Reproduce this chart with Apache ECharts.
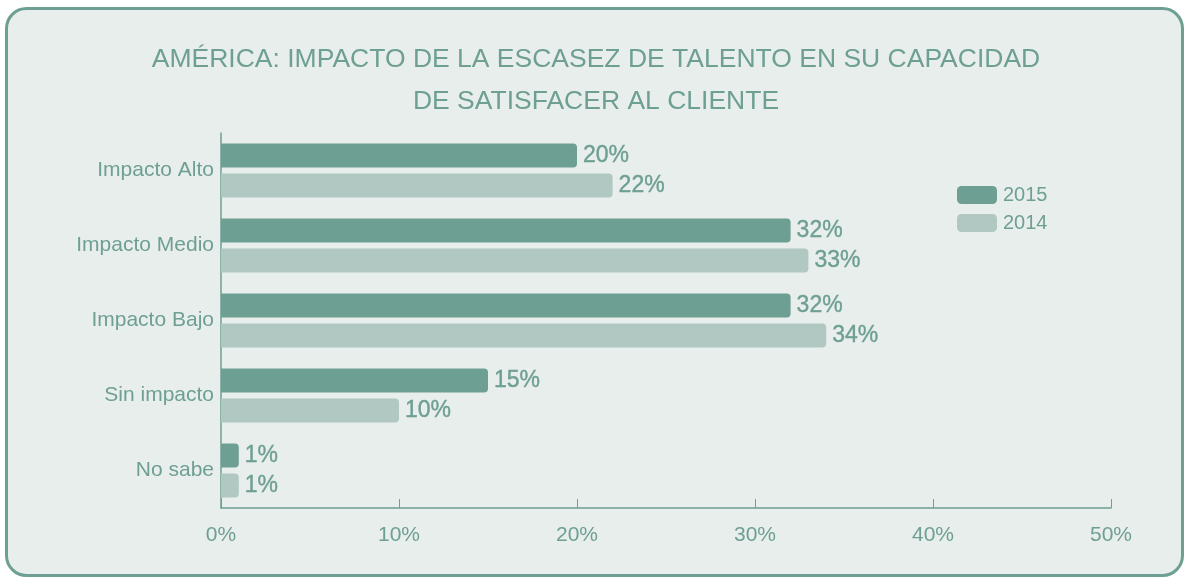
<!DOCTYPE html>
<html>
<head>
<meta charset="utf-8">
<script src="https://cdn.jsdelivr.net/npm/echarts@6/dist/echarts.min.js"></script>
<style>
  html, body { margin: 0; padding: 0; background: #ffffff; }
  #chart { width: 1186px; height: 580px; }
</style>
</head>
<body>
<div id="chart"></div>
<script>
var categories = ["Impacto Alto", "Impacto Medio", "Impacto Bajo", "Sin impacto", "No sabe"];
var values2015 = [20, 32, 32, 15, 1];
var values2014 = [22, 33, 34, 10, 1];
var xTicks = [0, 10, 20, 30, 40, 50];

var dark = "#6e9f93";
var light = "#b0c8c1";
var font = "Liberation Sans, Arial, sans-serif";

var chart = echarts.init(document.getElementById("chart"));
var option = {
  backgroundColor: "#ffffff",
  graphic: [{
    type: "rect",
    z: -10,
    shape: { x: 6.5, y: 8.5, width: 1176, height: 567, r: 20 },
    style: { fill: "#e8eeec", stroke: dark, lineWidth: 3 }
  }],
  title: {
    text: "AMÉRICA: IMPACTO DE LA ESCASEZ DE TALENTO EN SU CAPACIDAD\nDE SATISFACER AL CLIENTE",
    left: 591,
    textAlign: "center",
    top: 34,
    textStyle: { color: dark, fontSize: 26.5, fontWeight: "normal", fontFamily: font, lineHeight: 42 }
  },
  legend: {
    data: ["2015", "2014"],
    orient: "vertical",
    left: 952,
    top: 180,
    itemWidth: 40,
    itemHeight: 18,
    itemGap: 8,
    icon: "roundRect",
    textStyle: { color: dark, fontSize: 20, fontFamily: font, padding: [0, 0, 0, 1] }
  },
  grid: { left: 221, right: 75, top: 133, bottom: 72 },
  xAxis: {
    type: "value",
    min: xTicks[0],
    max: xTicks[xTicks.length - 1],
    interval: 10,
    axisLine: { show: true, lineStyle: { color: dark, width: 1.5 } },
    axisTick: { show: true, inside: true, length: 9, lineStyle: { color: dark } },
    splitLine: { show: false },
    axisLabel: { formatter: "{value}%", color: dark, fontSize: 21, fontFamily: font, margin: 17 }
  },
  yAxis: {
    type: "category",
    inverse: true,
    data: categories,
    axisLine: { show: true, lineStyle: { color: dark, width: 1.5 } },
    axisTick: { show: false },
    axisLabel: { color: dark, fontSize: 21, fontFamily: font, margin: 7 }
  },
  series: [
    {
      name: "2015",
      type: "bar",
      data: values2015,
      barWidth: 24,
      barGap: "25%",
      itemStyle: { color: dark, borderRadius: [0, 4, 4, 0] },
      label: { show: true, position: "right", distance: 6, formatter: "{c}%", color: dark, fontSize: 23, fontFamily: font, textBorderColor: dark, textBorderWidth: 0.4 }
    },
    {
      name: "2014",
      type: "bar",
      data: values2014,
      barWidth: 24,
      barGap: "25%",
      itemStyle: { color: light, borderRadius: [0, 4, 4, 0] },
      label: { show: true, position: "right", distance: 6, formatter: "{c}%", color: dark, fontSize: 23, fontFamily: font, textBorderColor: dark, textBorderWidth: 0.4 }
    }
  ]
};
chart.setOption(option);
</script>
</body>
</html>
